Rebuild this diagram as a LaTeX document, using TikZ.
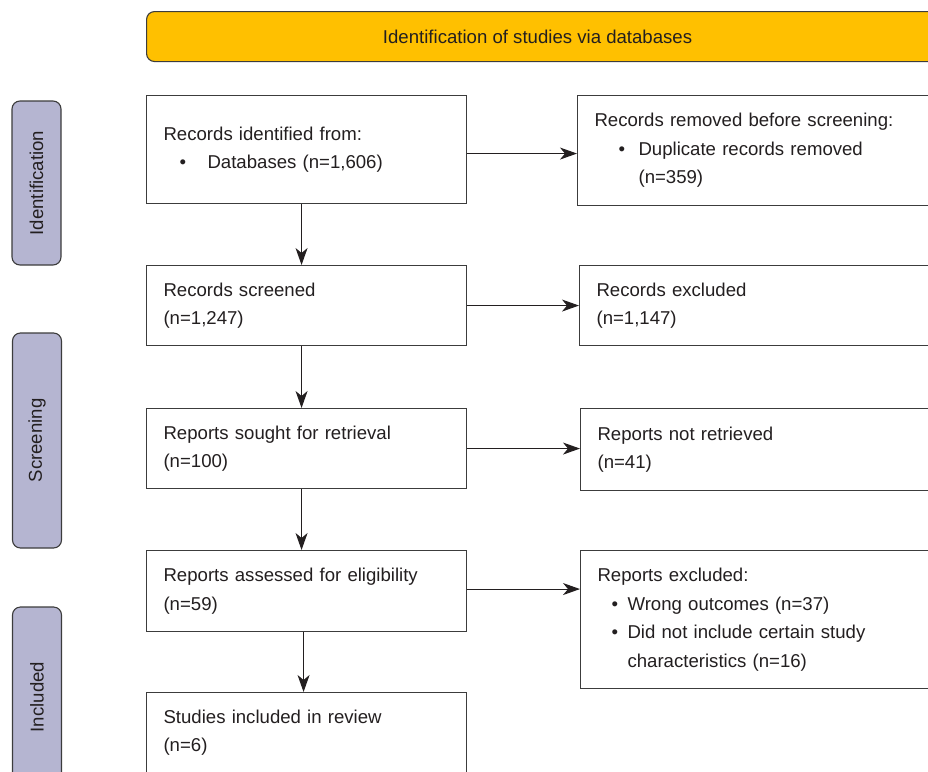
\documentclass[tikz,border=0pt]{standalone}
\usepackage{fontspec}
\setmainfont{Liberation Sans}
\usetikzlibrary{arrows.meta}

\definecolor{headyellow}{RGB}{255,192,0}
\definecolor{sidelilac}{RGB}{181,181,209}
\definecolor{edgegray}{RGB}{60,60,60}
\definecolor{inkgray}{RGB}{35,31,32}
\newcommand{\bodyfont}{\fontsize{18.6}{28.5}\selectfont}

\tikzset{every picture/.style={line width=1.1pt}}
\tikzset{
  flowbox/.style={draw=edgegray, fill=white, text=inkgray, anchor=north west, align=left, inner xsep=17pt, inner ysep=0pt, font=\bodyfont},
  leftbox/.style={flowbox, text width=286pt},
  rightbox/.style={flowbox, text width=329pt},
  headbox/.style={draw=edgegray, fill=headyellow, text=inkgray, rounded corners=8pt, anchor=north west, minimum width=800pt, minimum height=50pt, font=\bodyfont},
  sidelabel/.style={draw=edgegray, fill=sidelilac, text=inkgray, rounded corners=8pt, rotate=90, minimum height=49pt, inner sep=0pt, font=\bodyfont},
  flowarrow/.style={draw=inkgray, -{Stealth[length=17pt,width=12pt,inset=5pt]}}
}

\begin{document}
\begin{tikzpicture}[x=1pt,y=1pt,yscale=-1]
	\useasboundingbox (0,0) rectangle (928,771);
	\clip (0,0) rectangle (928,771);
	%Header, runs off the right edge
	\node[headbox] (head) at (146,11) {\hspace*{-18pt}Identification of studies via databases};
	%Side labels
	\node[sidelabel, minimum width=164pt] (sideident) at (36.5,183) {Identification};
	\node[sidelabel, minimum width=215pt] (sidescreen) at (37,440.5) {Screening};
	\node[sidelabel, minimum width=180pt] (sideincl) at (37,697) {Included};
	%Main column
	\node[leftbox, minimum height=108pt] (ident) at (146,95) {Records identified from:\\
		\makebox[44pt][l]{\hspace*{16pt}\textbullet}Databases (n=1,606)};
	\node[leftbox, minimum height=80pt] (screened) at (146,265) {Records screened\\(n=1,247)};
	\node[leftbox, minimum height=80pt] (sought) at (146,408) {Reports sought for retrieval\\(n=100)};
	\node[leftbox, minimum height=81pt] (assessed) at (146,550) {Reports assessed for eligibility\\(n=59)};
	\node[leftbox, minimum height=80pt] (included) at (146,692) {Studies included in review\\(n=6)};
	%Right column
	\node[rightbox, minimum height=110pt] (removed) at (577,95) {Records removed before screening:\\
		\makebox[44pt][l]{\hspace*{24pt}\textbullet}Duplicate records removed\\
		\hspace*{44pt}(n=359)};
	\node[rightbox, minimum height=80pt] (excluded) at (579,265) {Records excluded\\(n=1,147)};
	\node[rightbox, minimum height=82pt] (notretr) at (580,408) {Reports not retrieved\\(n=41)};
	\node[rightbox, minimum height=138pt] (repexcl) at (580,550) {Reports excluded:\\
		\makebox[30pt][l]{\hspace*{14pt}\textbullet}Wrong outcomes (n=37)\\
		\makebox[30pt][l]{\hspace*{14pt}\textbullet}Did not include certain study\\
		\hspace*{30pt}characteristics (n=16)};
	%Arrows across
	\draw[flowarrow] ([yshift=4pt]ident.east) -- ([yshift=4pt]ident.east -| removed.west);
	\draw[flowarrow] (screened.east) -- (screened.east -| excluded.west);
	\draw[flowarrow] (sought.east) -- (sought.east -| notretr.west);
	\draw[flowarrow] ([yshift=-2pt]assessed.east) -- ([yshift=-2pt]assessed.east -| repexcl.west);
	%Arrows down
	\draw[flowarrow] ([xshift=-5pt]ident.south) -- ([xshift=-5pt]ident.south |- screened.north);
	\draw[flowarrow] ([xshift=-5pt]screened.south) -- ([xshift=-5pt]screened.south |- sought.north);
	\draw[flowarrow] ([xshift=-5pt]sought.south) -- ([xshift=-5pt]sought.south |- assessed.north);
	\draw[flowarrow] ([xshift=-3pt]assessed.south) -- ([xshift=-3pt]assessed.south |- included.north);
\end{tikzpicture}
\end{document}
